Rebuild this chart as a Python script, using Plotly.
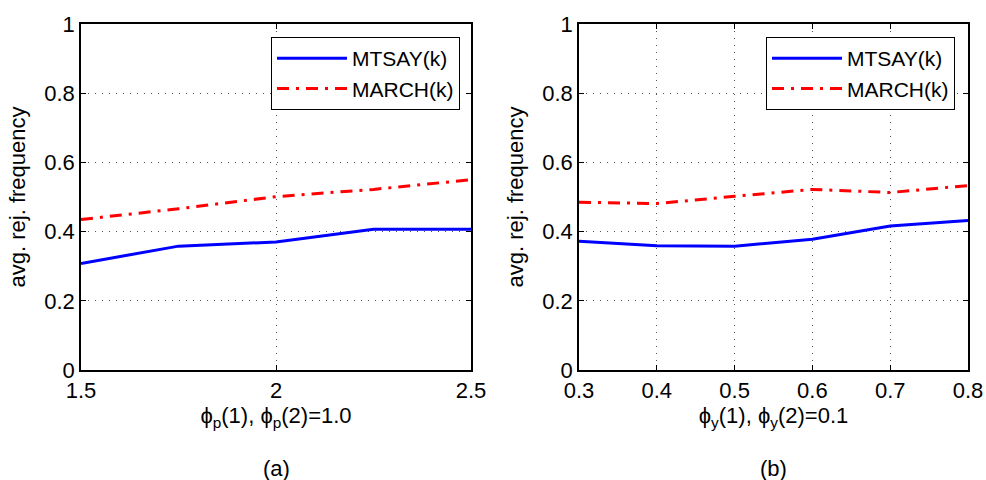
import plotly.graph_objects as go

# Data
x_a = [1.5, 1.75, 2.0, 2.25, 2.5]
mtsay_a = [0.308, 0.358, 0.370, 0.407, 0.407]
march_a = [0.435, 0.466, 0.501, 0.522, 0.550]

x_b = [0.3, 0.4, 0.5, 0.6, 0.7, 0.8]
mtsay_b = [0.372, 0.359, 0.358, 0.378, 0.416, 0.432]
march_b = [0.485, 0.481, 0.502, 0.522, 0.513, 0.533]

yticks = [0, 0.2, 0.4, 0.6, 0.8, 1]
ytick_text = ["0", "0.2", "0.4", "0.6", "0.8", "1"]
xticks_a = [1.5, 2, 2.5]
xticks_a_text = ["1.5", "2", "2.5"]
xticks_b = [0.3, 0.4, 0.5, 0.6, 0.7, 0.8]
xticks_b_text = ["0.3", "0.4", "0.5", "0.6", "0.7", "0.8"]

FONT = "Liberation Sans, Arial, sans-serif"
FS = 22
BLUE = "#0000ff"
RED = "#ff0000"
DASHDOT = "12px,7px,3px,7px"

fig = go.Figure()
fig.add_trace(go.Scatter(x=x_a, y=mtsay_a, mode="lines", name="MTSAY(k)",
                         line=dict(color=BLUE, width=3), xaxis="x", yaxis="y", legend="legend"))
fig.add_trace(go.Scatter(x=x_a, y=march_a, mode="lines", name="MARCH(k)",
                         line=dict(color=RED, width=3, dash=DASHDOT),
                         xaxis="x", yaxis="y", legend="legend"))
fig.add_trace(go.Scatter(x=x_b, y=mtsay_b, mode="lines", name="MTSAY(k)",
                         line=dict(color=BLUE, width=3), xaxis="x2", yaxis="y2", legend="legend2"))
fig.add_trace(go.Scatter(x=x_b, y=march_b, mode="lines", name="MARCH(k)",
                         line=dict(color=RED, width=3, dash=DASHDOT),
                         xaxis="x2", yaxis="y2", legend="legend2"))

axis_common = dict(
    showline=True, linecolor="black", linewidth=1.5, mirror="ticks",
    ticks="inside", ticklen=5, tickcolor="black", tickwidth=1,
    showgrid=True, gridcolor="#555555", gridwidth=1, griddash="1px,6px",
    zeroline=False, automargin=False,
    tickfont=dict(family=FONT, size=FS, color="black"),
)

ydom = [1 - 370 / 480, 1 - 24 / 480]
title_font = dict(family=FONT, size=FS, color="black")
legend_common = dict(yanchor="top", bgcolor="white", bordercolor="black", borderwidth=1,
                     font=dict(family=FONT, size=21), tracegroupgap=0, itemwidth=70)

fig.update_layout(
    width=986, height=480,
    margin=dict(l=0, r=0, t=0, b=0, autoexpand=False),
    paper_bgcolor="white", plot_bgcolor="white",
    font=dict(family=FONT, size=FS, color="black"),
    xaxis=dict(domain=[81 / 986, 471 / 986], range=[1.5, 2.5],
               tickvals=xticks_a, ticktext=xticks_a_text, anchor="y",
               title=dict(text="ϕ<sub>p</sub>(1), ϕ<sub>p</sub>(2)=1.0",
                          font=title_font, standoff=0),
               **axis_common),
    yaxis=dict(domain=ydom, range=[0, 1], tickvals=yticks, ticktext=ytick_text, anchor="x",
               title=dict(text="avg. rej. frequency", font=title_font, standoff=13),
               **axis_common),
    xaxis2=dict(domain=[579 / 986, 968 / 986], range=[0.3, 0.8],
                tickvals=xticks_b, ticktext=xticks_b_text, anchor="y2",
                title=dict(text="ϕ<sub>y</sub>(1), ϕ<sub>y</sub>(2)=0.1",
                           font=title_font, standoff=0),
                **axis_common),
    yaxis2=dict(domain=ydom, range=[0, 1], tickvals=yticks, ticktext=ytick_text, anchor="x2",
                title=dict(text="avg. rej. frequency", font=title_font, standoff=13),
                **axis_common),
    legend=dict(x=460 / 986, y=1 - 37 / 480, xanchor="right", **legend_common),
    legend2=dict(x=955 / 986, y=1 - 37 / 480, xanchor="right", **legend_common),
    showlegend=True,
    annotations=[
        dict(text="(a)", x=(81 + 471) / 2 / 986, y=1 - 468 / 480, xref="paper", yref="paper",
             showarrow=False, font=title_font, xanchor="center", yanchor="middle"),
        dict(text="(b)", x=(579 + 968) / 2 / 986, y=1 - 468 / 480, xref="paper", yref="paper",
             showarrow=False, font=title_font, xanchor="center", yanchor="middle"),
    ],
)

fig.write_html("out.html", config={"displayModeBar": False},
               post_script="document.body.style.margin='0';document.body.style.overflow='hidden';")
